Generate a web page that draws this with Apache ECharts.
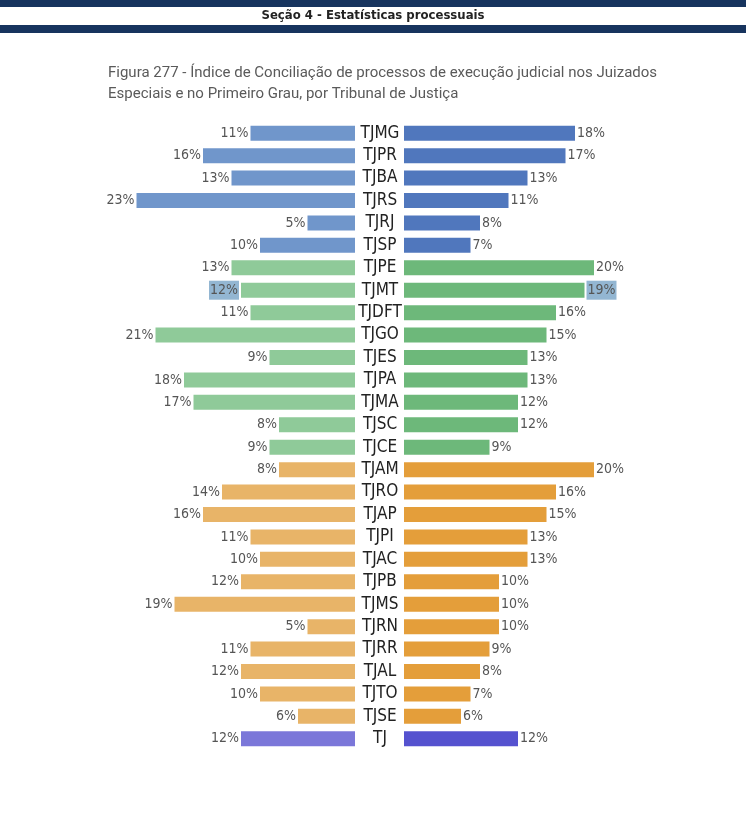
<!DOCTYPE html>
<html>
<head>
<meta charset="utf-8">
<script src="https://cdn.jsdelivr.net/npm/echarts@6/dist/echarts.min.js"></script>
<style>
  html, body { margin: 0; padding: 0; background: #fff; }
  #chart { width: 746px; height: 817px; }
</style>
</head>
<body>
<div id="chart"></div>
<script>
// tribunais, de cima para baixo
var tribunais = ['TJMG', 'TJPR', 'TJBA', 'TJRS', 'TJRJ', 'TJSP',
  'TJPE', 'TJMT', 'TJDFT', 'TJGO', 'TJES', 'TJPA', 'TJMA', 'TJSC', 'TJCE',
  'TJAM', 'TJRO', 'TJAP', 'TJPI', 'TJAC', 'TJPB', 'TJMS', 'TJRN', 'TJRR', 'TJAL', 'TJTO', 'TJSE',
  'TJ'];
// porte do tribunal
var porte = ['grande', 'grande', 'grande', 'grande', 'grande', 'grande',
  'medio', 'medio', 'medio', 'medio', 'medio', 'medio', 'medio', 'medio', 'medio',
  'pequeno', 'pequeno', 'pequeno', 'pequeno', 'pequeno', 'pequeno', 'pequeno', 'pequeno', 'pequeno', 'pequeno', 'pequeno', 'pequeno',
  'total'];
// índice de conciliação (%)
var juizados = [11, 16, 13, 23, 5, 10, 13, 12, 11, 21, 9, 18, 17, 8, 9, 8, 14, 16, 11, 10, 12, 19, 5, 11, 12, 10, 6, 12];
var primeiroGrau = [18, 17, 13, 11, 8, 7, 20, 19, 16, 15, 13, 13, 12, 12, 9, 20, 16, 15, 13, 13, 10, 10, 10, 9, 8, 7, 6, 12];
var destaque = ['TJMT'];

var corEsq = { grande: '#7096cb', medio: '#8fca99', pequeno: '#e8b468', total: '#7b77d9' };
var corDir = { grande: '#5077bd', medio: '#6db87a', pequeno: '#e49e3a', total: '#5552cf' };

var fonteNum = '"Liberation Sans Narrow", "DejaVu Sans Condensed", sans-serif';

function montar(vals, cores) {
  return vals.map(function (v, i) {
    var item = { value: v, itemStyle: { color: cores[porte[i]] } };
    if (destaque.indexOf(tribunais[i]) >= 0) {
      item.label = { backgroundColor: '#93b6d2', padding: [3, 1, 2, 1] };
    }
    return item;
  });
}

var chart = echarts.init(document.getElementById('chart'));

var option = {
  animation: false,
  graphic: [
    { type: 'rect', shape: { x: 0, y: 0, width: 746, height: 7 }, style: { fill: '#17345e' } },
    { type: 'rect', shape: { x: 0, y: 25, width: 746, height: 8 }, style: { fill: '#17345e' } },
    { type: 'text', left: 'center', top: 9, style: { text: 'Seção 4 - Estatísticas processuais', fill: '#222', font: 'bold 13px "Liberation Sans Narrow", "DejaVu Sans Condensed", sans-serif' } },
    { type: 'text', left: 108, top: 63, style: { text: 'Figura 277 - Índice de Conciliação de processos de execução judicial nos Juizados\nEspeciais e no Primeiro Grau, por Tribunal de Justiça', fill: '#5a5a5a', font: '15px Roboto, sans-serif', lineHeight: 21 } }
  ],
  grid: [
    { left: 117.5, right: 391, top: 122, bottom: 67 },
    { left: 404, right: 104.5, top: 122, bottom: 67 }
  ],
  xAxis: [
    { gridIndex: 0, type: 'value', min: 0, max: 25, inverse: true, show: false },
    { gridIndex: 1, type: 'value', min: 0, max: 25, show: false }
  ],
  yAxis: [
    { gridIndex: 0, type: 'category', data: tribunais, inverse: true, show: false },
    {
      gridIndex: 1, type: 'category', data: tribunais, inverse: true, position: 'left',
      axisLine: { show: false }, axisTick: { show: false },
      axisLabel: { interval: 0, hideOverlap: false, align: 'center', margin: 24, color: '#222', fontSize: 17, fontFamily: fonteNum }
    }
  ],
  series: [
    {
      name: 'Juizados Especiais', type: 'bar', xAxisIndex: 0, yAxisIndex: 0,
      barWidth: 15, data: montar(juizados, corEsq),
      label: { show: true, position: 'left', distance: 2, color: '#555', fontSize: 14, fontFamily: fonteNum, formatter: '{c}%' }
    },
    {
      name: 'Primeiro Grau', type: 'bar', xAxisIndex: 1, yAxisIndex: 1,
      barWidth: 15, data: montar(primeiroGrau, corDir),
      label: { show: true, position: 'right', distance: 2, color: '#555', fontSize: 14, fontFamily: fonteNum, formatter: '{c}%' }
    }
  ]
};
chart.setOption(option);
</script>
</body>
</html>
